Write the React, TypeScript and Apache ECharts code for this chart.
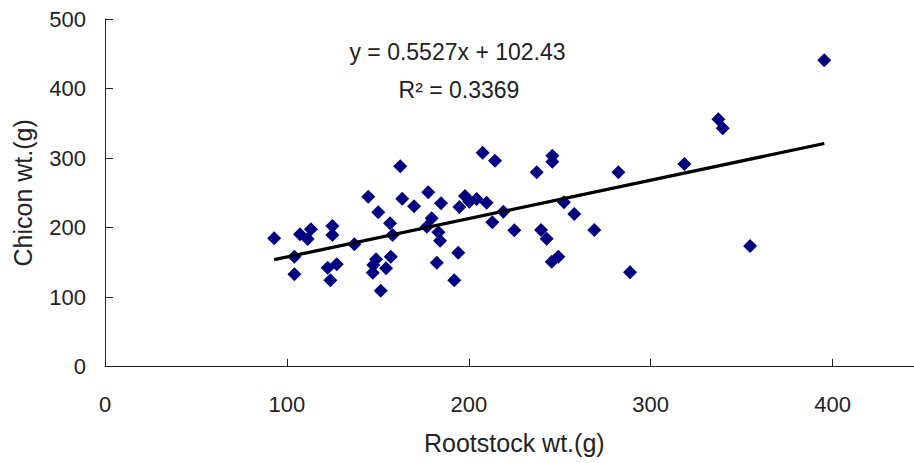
import React, { useEffect, useRef } from "react";
import * as echarts from "echarts";

const rootstockWt: number[] = [
  93.0, 104.1, 104.1, 107.2, 111.4, 113.2, 125.0, 125.0, 122.4, 127.4,
  123.9, 137.1, 144.7, 150.2, 149.0, 147.5, 147.2, 154.5, 151.6, 156.7,
  158.1, 157.1, 162.3, 163.4, 169.9, 177.7, 184.7, 179.6, 176.9, 183.3,
  184.2, 182.4, 194.2, 192.0, 207.6, 214.4, 194.8, 197.9, 200.3, 204.3,
  209.8, 212.9, 219.0, 225.0, 237.3, 245.9, 245.9, 239.7, 242.8, 245.6,
  249.2, 252.3, 258.0, 269.0, 282.2, 288.6, 318.5, 337.2, 339.6, 354.6,
  395.4,
];
const chiconWt: number[] = [
  184.6, 158.2, 132.9, 190.4, 183.6, 197.6, 202.3, 189.4, 142.4, 147.3,
  124.2, 176.0, 244.5, 222.0, 154.4, 146.2, 135.2, 141.5, 109.3, 206.2,
  189.4, 158.2, 288.2, 241.6, 230.7, 250.8, 235.0, 213.4, 201.3, 193.3,
  181.2, 149.6, 163.9, 124.2, 307.7, 296.2, 229.5, 245.5, 237.3, 241.2,
  235.8, 207.6, 222.9, 196.1, 279.5, 303.4, 294.8, 196.6, 184.1, 151.0,
  158.2, 236.4, 219.6, 196.6, 279.5, 135.7, 291.5, 355.8, 342.8, 173.6,
  440.6,
];
const slope = 0.5527;
const intercept = 102.43;
const equationText = "y = 0.5527x + 102.43";
const r2Text = "R\u00B2 = 0.3369";
const xTitle = "Rootstock wt.(g)";
const yTitle = "Chicon wt.(g)";

const FONT = "'Liberation Sans', Arial, sans-serif";
const TEXT = "#222";

export default function App() {
  const ref = useRef<HTMLDivElement>(null);
  useEffect(() => {
    if (!ref.current) return;
    const chart = echarts.init(ref.current, undefined, { renderer: "svg" });
    const pts = rootstockWt.map((x, i) => [x, chiconWt[i]]);
    const minX = Math.min(...rootstockWt);
    const maxX = Math.max(...rootstockWt);
    const trend = [
      [minX, slope * minX + intercept],
      [maxX, slope * maxX + intercept],
    ];
    chart.setOption({
      animation: false,
      backgroundColor: "#fff",
      grid: {
        left: 105,
        right: -9.6,
        top: 19,
        bottom: 96.3,
        containLabel: false,
        outerBoundsMode: "none",
      },
      xAxis: {
        type: "value",
        min: 0,
        max: 450,
        interval: 100,
        name: xTitle,
        nameLocation: "middle",
        nameGap: 64,
        nameTextStyle: { fontFamily: FONT, fontSize: 25, color: TEXT },
        axisLine: { show: true, lineStyle: { color: TEXT, width: 1 } },
        axisTick: { show: true, inside: true, length: 8, lineStyle: { color: TEXT } },
        axisLabel: { margin: 27, fontFamily: FONT, fontSize: 22, color: TEXT, showMaxLabel: false },
        splitLine: { show: false },
      },
      yAxis: {
        type: "value",
        min: 0,
        max: 500,
        interval: 100,
        name: yTitle,
        nameLocation: "middle",
        nameGap: 70,
        nameTextStyle: { fontFamily: FONT, fontSize: 25, color: TEXT },
        axisLine: { show: true, lineStyle: { color: TEXT, width: 1 } },
        axisTick: { show: true, inside: true, length: 8, lineStyle: { color: TEXT } },
        axisLabel: { margin: 19, fontFamily: FONT, fontSize: 22, color: TEXT },
        splitLine: { show: false },
      },
      series: [
        {
          type: "scatter",
          data: pts,
          symbol: "diamond",
          symbolSize: 14,
          itemStyle: { color: "#000080", opacity: 1 },
          z: 2,
        },
        {
          type: "line",
          data: trend,
          symbol: "none",
          lineStyle: { color: "#000", width: 3.3 },
          z: 3,
        },
      ],
      graphic: [
        {
          type: "text",
          x: 457.5,
          y: 52,
          style: {
            text: equationText,
            fontFamily: FONT,
            fontSize: 23,
            fill: TEXT,
            textAlign: "center",
            textVerticalAlign: "middle",
          },
        },
        {
          type: "text",
          x: 459,
          y: 90,
          style: {
            text: r2Text,
            fontFamily: FONT,
            fontSize: 23,
            fill: TEXT,
            textAlign: "center",
            textVerticalAlign: "middle",
          },
        },
      ],
    });
    return () => chart.dispose();
  }, []);
  return (
    <div
      ref={ref}
      style={{ position: "absolute", left: 0, top: 0, width: 914, height: 463 }}
    />
  );
}
